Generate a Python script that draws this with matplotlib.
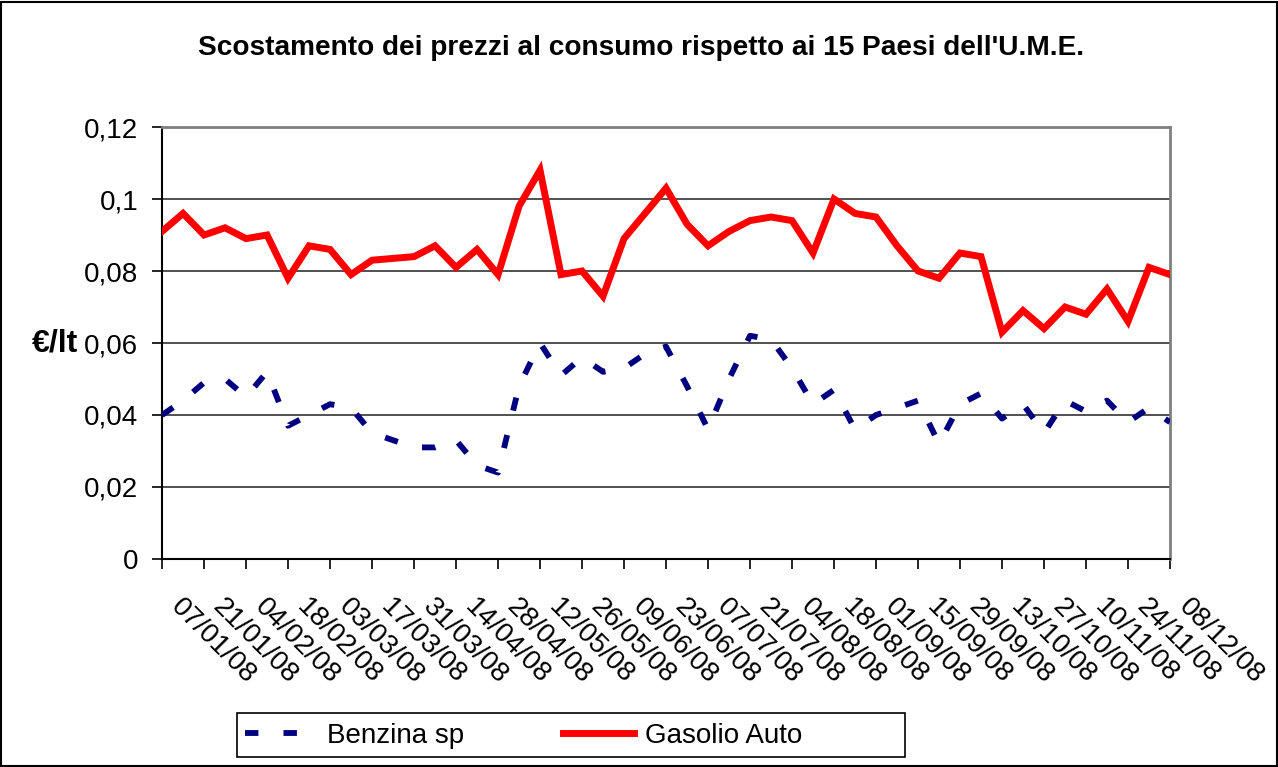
import matplotlib
matplotlib.use('Agg')
import matplotlib.pyplot as plt
import numpy as np
from matplotlib.ticker import FuncFormatter, FixedLocator
from matplotlib.transforms import ScaledTranslation
from matplotlib.patches import Rectangle

plt.rcParams['font.family'] = ['Liberation Sans', 'DejaVu Sans']

# weekly dates from 07/01/08 to 08/12/08 (labels shown every two weeks)
date_labels = ['07/01/08', '21/01/08', '04/02/08', '18/02/08', '03/03/08',
               '17/03/08', '31/03/08', '14/04/08', '28/04/08', '12/05/08',
               '26/05/08', '09/06/08', '23/06/08', '07/07/08', '21/07/08',
               '04/08/08', '18/08/08', '01/09/08', '15/09/08', '29/09/08',
               '13/10/08', '27/10/08', '10/11/08', '24/11/08', '08/12/08']

benzina = [0.040, 0.044, 0.049, 0.050, 0.045, 0.052, 0.037, 0.040, 0.043, 0.042,
           0.035, 0.033, 0.031, 0.031, 0.033, 0.026, 0.024, 0.048, 0.060, 0.051,
           0.056, 0.052, 0.053, 0.057, 0.059, 0.048, 0.036, 0.050, 0.062, 0.061,
           0.053, 0.043, 0.047, 0.036, 0.040, 0.042, 0.044, 0.032, 0.043, 0.046,
           0.039, 0.043, 0.035, 0.044, 0.041, 0.044, 0.038, 0.042, 0.038]

gasolio = [0.091, 0.096, 0.090, 0.092, 0.089, 0.090, 0.078, 0.087, 0.086, 0.079,
           0.083, 0.0835, 0.084, 0.087, 0.081, 0.086, 0.079, 0.098, 0.108, 0.079,
           0.080, 0.073, 0.089, 0.096, 0.103, 0.093, 0.087, 0.091, 0.094, 0.095,
           0.094, 0.085, 0.100, 0.096, 0.095, 0.087, 0.080, 0.078, 0.085, 0.084,
           0.063, 0.069, 0.064, 0.070, 0.068, 0.075, 0.066, 0.081, 0.079]

weeks = np.arange(len(gasolio))

fig = plt.figure(figsize=(12.78, 7.67), dpi=100)
ax = fig.add_axes([0.1268, 0.2712, 0.7887, 0.5632])

ax.plot(weeks, benzina, color='#000080', lw=4.2, dashes=(2.3, 4.3),
        dash_capstyle='butt', label='Benzina sp', zorder=3)
ax.plot(weeks, gasolio, color='#ff0000', lw=5, solid_joinstyle='miter',
        label='Gasolio Auto', zorder=4)

ax.set_xlim(0, len(gasolio) - 1)
ax.set_ylim(0, 0.12)
ax.set_yticks(np.arange(0, 0.121, 0.02))
ax.yaxis.set_major_formatter(FuncFormatter(lambda v, p: f'{v:g}'.replace('.', ',')))
ax.grid(axis='y', color='#222222', lw=1.1)
ax.set_axisbelow(True)

ax.tick_params(axis='y', labelsize=20, length=7, width=1.2, pad=10)
ax.tick_params(axis='x', length=7, width=1.2, pad=4)

ax.xaxis.set_major_locator(FixedLocator(weeks[::2]))
ax.set_xticklabels(date_labels, rotation=-45, ha='left', va='top',
                   rotation_mode='anchor', fontsize=20)
# shift the slanted date labels right and down (after tick_params, which resets them)
offset = ScaledTranslation(0.22, -0.2, fig.dpi_scale_trans)
for lbl in ax.xaxis.get_majorticklabels():
    lbl.set_transform(lbl.get_transform() + offset)

for s in ['top', 'right']:
    ax.spines[s].set_color('#808080')
    ax.spines[s].set_linewidth(2)
for s in ['left', 'bottom']:
    ax.spines[s].set_color('black')
    ax.spines[s].set_linewidth(1.5)

ax.set_ylabel('€/lt', rotation=0, fontsize=23, fontweight='bold', va='center', ha='center')
ax.yaxis.set_label_coords(-0.106, 0.5)

fig.text(0.502, 1 - 48 / 767, "Scostamento dei prezzi al consumo rispetto ai 15 Paesi dell'U.M.E.",
         ha='center', va='center', fontsize=20.2, fontweight='bold')

# legend entries without frame, box drawn separately like the Excel legend
fig.legend(loc='center left', bbox_to_anchor=(245 / 1278, 1 - 736 / 767), ncol=2,
           fontsize=20, frameon=False, handlelength=2.55, handletextpad=0.4,
           columnspacing=3.55, borderpad=0, borderaxespad=0)
fig.patches.append(Rectangle((237 / 1278, 1 - 757 / 767), 668 / 1278, 44 / 767,
                             transform=fig.transFigure, fill=False,
                             edgecolor='black', lw=1.2))

fig.patches.append(Rectangle((0.001, 0.001), 0.998, 0.997, transform=fig.transFigure,
                             fill=False, edgecolor='black', lw=1.5))

fig.savefig('out.png', dpi=100)
